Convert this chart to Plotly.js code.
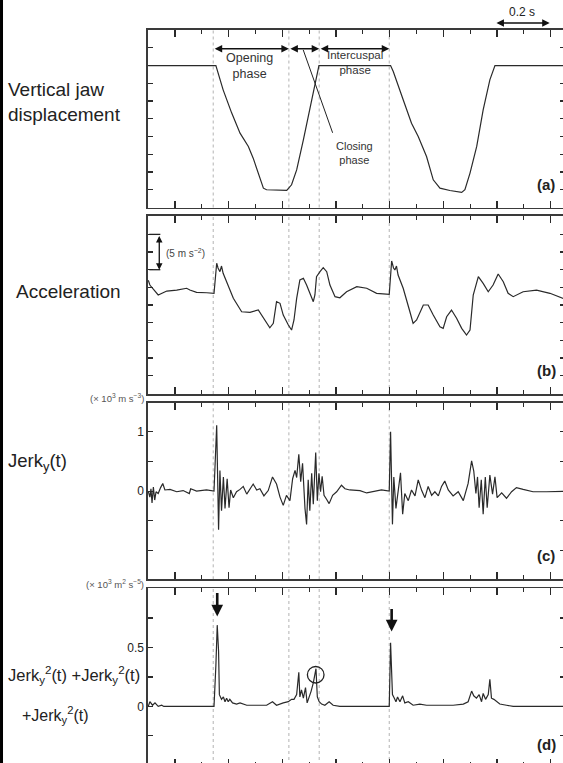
<!DOCTYPE html>
<html>
<head>
<meta charset="utf-8">
<script src="https://cdn.plot.ly/plotly-3.0.1.min.js"></script>
<style>
html,body{margin:0;padding:0;overflow:hidden;background:#fff;}
#chart{width:565px;height:766px;}
</style>
</head>
<body>
<div id="chart"></div>
<script>
// ---- data (time in s) ----
const timeDisp = [0, 0.252, 0.279, 0.311, 0.342, 0.373, 0.391, 0.410, 0.429, 0.441, 0.516, 0.534, 0.553, 0.578, 0.603, 0.621, 0.636, 0.903, 0.913, 0.950, 0.981, 1.006, 1.037, 1.062, 1.087, 1.124, 1.168, 1.180, 1.199, 1.224, 1.248, 1.273, 1.292, 1.560];
const displacement = [0, 0, -1.37, -2.68, -3.81, -4.56, -5.22, -6.06, -6.91, -7.00, -7.04, -6.72, -5.88, -4.19, -2.31, -0.99, 0, 0, -0.34, -1.93, -3.25, -4.00, -5.13, -6.44, -6.91, -7.04, -7.15, -7.00, -6.06, -4.56, -2.50, -0.81, 0, 0];

const timeAcc = [0.000, 0.006, 0.037, 0.069, 0.106, 0.143, 0.155, 0.180, 0.218, 0.245, 0.255, 0.260, 0.267, 0.273, 0.279, 0.298, 0.317, 0.348, 0.379, 0.410, 0.429, 0.453, 0.466, 0.478, 0.491, 0.503, 0.522, 0.534, 0.543, 0.553, 0.565, 0.578, 0.590, 0.603, 0.615, 0.621, 0.627, 0.640, 0.652, 0.665, 0.677, 0.696, 0.714, 0.739, 0.777, 0.814, 0.851, 0.898, 0.907, 0.914, 0.919, 0.925, 0.931, 0.950, 0.963, 0.975, 0.987, 1.000, 1.025, 1.043, 1.062, 1.087, 1.099, 1.112, 1.130, 1.149, 1.168, 1.186, 1.199, 1.211, 1.230, 1.248, 1.267, 1.285, 1.304, 1.323, 1.341, 1.360, 1.397, 1.447, 1.497, 1.540, 1.560];
const acceleration = [3.5, 2.83, 1.42, 1.98, 2.12, 2.37, 2.12, 1.80, 1.74, 1.66, 5.91, 5.24, 4.72, 5.52, 4.49, 2.83, 0.95, -0.95, -1.03, -0.71, -1.88, -3.22, -2.59, 0.47, 0.24, -1.42, -2.83, -3.54, -2.12, 0.95, 3.54, 3.78, 2.83, 1.66, 0.47, 1.42, 4.01, 4.72, 5.28, 4.72, 2.83, 1.18, 1.03, 1.88, 2.59, 2.37, 1.66, 1.52, 6.23, 5.24, 4.96, 5.52, 4.25, 2.37, 0.47, -0.95, -2.59, -2.12, 0, 0, -1.42, -3.07, -3.30, -1.66, -0.71, -1.88, -3.30, -4.25, -3.54, 1.42, 4.01, 3.07, 1.88, 2.83, 4.39, 3.30, 1.66, 1.18, 1.88, 2.12, 1.66, 0.95, 0.71];

const timeJerk = [0.000, 0.006, 0.010, 0.014, 0.019, 0.024, 0.029, 0.037, 0.046, 0.054, 0.062, 0.081, 0.106, 0.130, 0.153, 0.158, 0.180, 0.217, 0.245, 0.255, 0.262, 0.267, 0.273, 0.280, 0.286, 0.294, 0.301, 0.307, 0.317, 0.329, 0.342, 0.354, 0.367, 0.379, 0.391, 0.404, 0.416, 0.431, 0.447, 0.463, 0.478, 0.491, 0.503, 0.515, 0.528, 0.538, 0.547, 0.553, 0.561, 0.568, 0.575, 0.584, 0.590, 0.596, 0.602, 0.609, 0.615, 0.624, 0.630, 0.636, 0.642, 0.648, 0.655, 0.665, 0.674, 0.687, 0.702, 0.720, 0.733, 0.751, 0.789, 0.814, 0.838, 0.869, 0.898, 0.903, 0.910, 0.915, 0.923, 0.932, 0.940, 0.948, 0.956, 0.969, 0.981, 0.994, 1.006, 1.019, 1.031, 1.043, 1.056, 1.068, 1.081, 1.093, 1.105, 1.118, 1.136, 1.155, 1.174, 1.192, 1.205, 1.213, 1.221, 1.227, 1.233, 1.241, 1.248, 1.256, 1.263, 1.273, 1.283, 1.292, 1.300, 1.317, 1.335, 1.354, 1.372, 1.397, 1.434, 1.484, 1.545, 1.560];
const jerkY = [0, -0.10, 0.04, -0.20, 0.07, -0.15, -0.01, -0.04, 0.06, 0.13, 0.02, 0.03, -0.01, 0.01, -0.04, 0.04, 0, 0.02, 0, 1.11, -0.65, 0.35, -0.33, 0.24, -0.29, 0.21, -0.28, 0.02, -0.11, -0.01, 0.03, 0.08, -0.05, 0.04, 0.12, 0.02, 0.04, -0.08, 0.01, 0.24, 0.12, -0.10, -0.24, -0.07, -0.16, 0.21, 0.35, 0.23, 0.62, 0.16, 0.47, -0.29, -0.56, 0.19, -0.33, 0.30, -0.22, 0.65, -0.16, 0.30, -0.01, 0.25, -0.07, -0.14, -0.21, -0.07, -0.01, 0.10, 0.04, 0.02, 0.01, -0.03, -0.01, 0.02, 0, 1.00, -0.56, 0.24, -0.29, 0.07, 0.31, -0.39, -0.04, -0.16, 0.02, -0.08, 0.19, 0.01, -0.11, 0.08, -0.07, -0.01, -0.08, 0.08, 0.17, 0.02, -0.08, -0.01, -0.16, 0.13, 0.51, 0.34, -0.04, 0.24, -0.28, 0.19, -0.39, 0.24, -0.28, 0.27, -0.05, 0.24, -0.11, -0.03, -0.12, -0.01, 0.06, 0.03, -0.01, -0.01, 0, 0];

const timeJerkSq = [0.000, 0.006, 0.016, 0.025, 0.037, 0.050, 0.058, 0.245, 0.252, 0.257, 0.262, 0.265, 0.273, 0.280, 0.286, 0.292, 0.298, 0.304, 0.314, 0.329, 0.342, 0.367, 0.391, 0.416, 0.441, 0.463, 0.478, 0.503, 0.522, 0.534, 0.543, 0.553, 0.561, 0.565, 0.571, 0.578, 0.586, 0.592, 0.600, 0.607, 0.615, 0.621, 0.625, 0.630, 0.637, 0.646, 0.658, 0.674, 0.689, 0.714, 0.739, 0.898, 0.903, 0.907, 0.910, 0.917, 0.923, 0.929, 0.938, 0.948, 0.956, 0.969, 0.987, 1.012, 1.037, 1.087, 1.136, 1.174, 1.192, 1.205, 1.213, 1.223, 1.233, 1.242, 1.248, 1.257, 1.267, 1.273, 1.279, 1.288, 1.298, 1.310, 1.335, 1.360, 1.545, 1.560];
const jerkSqSum = [0, 0.04, 0.01, 0.03, 0, 0.01, 0, 0, 0.35, 0.69, 0.47, 0.10, 0.06, 0.08, 0.04, 0.07, 0.04, 0.06, 0.03, 0.02, 0.03, 0.01, 0.01, 0.01, 0.01, 0.04, 0.01, 0.03, 0.04, 0.06, 0.06, 0.10, 0.29, 0.08, 0.14, 0.07, 0.16, 0.03, 0.08, 0.13, 0.20, 0.27, 0.32, 0.08, 0.04, 0.02, 0.01, 0.04, 0.01, 0, 0, 0, 0.54, 0.35, 0.10, 0.07, 0.04, 0.08, 0.04, 0.09, 0.03, 0.04, 0.01, 0.02, 0.01, 0.01, 0.01, 0.02, 0.04, 0.13, 0.09, 0.07, 0.10, 0.04, 0.11, 0.06, 0.10, 0.23, 0.07, 0.06, 0.04, 0.02, 0.01, 0, 0, 0];

// phase boundaries (s)
const phaseBounds = [0.242, 0.524, 0.637, 0.898];

// ---- figure ----
const FONT = 'Liberation Sans, Arial, sans-serif';
const lineStyle = {color: '#2a2a2a', width: 1.2};
const traces = [
  {x: timeDisp, y: displacement, xaxis: 'x', yaxis: 'y', mode: 'lines', line: lineStyle, hoverinfo: 'skip'},
  {x: timeAcc, y: acceleration, xaxis: 'x2', yaxis: 'y2', mode: 'lines', line: lineStyle, hoverinfo: 'skip'},
  {x: timeJerk, y: jerkY, xaxis: 'x3', yaxis: 'y3', mode: 'lines', line: lineStyle, hoverinfo: 'skip'},
  {x: timeJerkSq, y: jerkSqSum, xaxis: 'x4', yaxis: 'y4', mode: 'lines', line: lineStyle, hoverinfo: 'skip'}
];

function xAxis(anchor) {
  return {
    anchor: anchor, range: [-0.001, 1.553], showgrid: false, zeroline: false,
    showline: true, linecolor: '#3a3a3a', linewidth: 1.6, mirror: 'ticks',
    ticks: 'inside', ticklen: 7, tickwidth: 1.3, tickcolor: '#2a2a2a',
    tick0: 0.1, dtick: 0.2, showticklabels: false,
    minor: {ticks: 'inside', ticklen: 4, tickwidth: 1.1, tickcolor: '#2a2a2a', tick0: 0, dtick: 0.2, showgrid: false}
  };
}
function yAxis(anchor, domain, range, extra) {
  return Object.assign({
    anchor: anchor, domain: domain, range: range, showgrid: false, zeroline: false,
    showline: true, linecolor: '#3a3a3a', linewidth: 1.6, mirror: 'ticks',
    ticks: 'inside', ticklen: 5, tickwidth: 1.2, tickcolor: '#2a2a2a',
    showticklabels: false, tickfont: {family: FONT, size: 12, color: '#222'}
  }, extra || {});
}

const shapes = [];
const axPairs = [['x', 'y'], ['x2', 'y2'], ['x3', 'y3'], ['x4', 'y4']];
axPairs.forEach(p => {
  phaseBounds.forEach(b => {
    shapes.push({type: 'line', xref: p[0], yref: p[1] + ' domain', x0: b, x1: b, y0: 0, y1: 1,
      line: {color: '#b3b3b3', width: 1, dash: 'dot'}, layer: 'below'});
  });
});
// left frame line
shapes.push({type: 'line', xref: 'paper', yref: 'paper', x0: -0.3513, x1: -0.3513, y0: 0, y1: 1,
  line: {color: '#000', width: 3}});
// leader line for closing phase
shapes.push({type: 'line', xref: 'x', yref: 'y', x0: 0.5775, y0: 0.88, x1: 0.687, y1: -3.79,
  line: {color: '#222', width: 1}});
// scale bracket in (b)
shapes.push({type: 'line', xref: 'x2', yref: 'y2', x0: 0.004, x1: 0.045, y0: 10, y1: 10, line: {color: '#222', width: 1.3}});
shapes.push({type: 'line', xref: 'x2', yref: 'y2', x0: 0.004, x1: 0.045, y0: 5, y1: 5, line: {color: '#222', width: 1.3}});
// circle in (d)
shapes.push({type: 'circle', xref: 'x4', yref: 'y4', x0: 0.593, x1: 0.655, y0: 0.199, y1: 0.339,
  line: {color: '#222', width: 1.3}});

function dblArrow(xr, yr, x0, y0, x1, y1, w) {
  return {xref: xr, yref: yr, axref: xr, ayref: yr, x: x1, y: y1, ax: x0, ay: y0, text: '',
    showarrow: true, arrowside: 'end+start', arrowhead: 2, arrowsize: 1, arrowwidth: w || 1.5,
    arrowcolor: '#111', standoff: 0, startstandoff: 0};
}
function downArrow(xr, yr, x, yTop, yTip) {
  return {xref: xr, yref: yr, axref: xr, ayref: yr, x: x, y: yTip, ax: x, ay: yTop, text: '',
    showarrow: true, arrowhead: 2, arrowsize: 0.9, arrowwidth: 2.6, arrowcolor: '#111', standoff: 0};
}
function txt(xr, yr, x, y, text, size, opts) {
  return Object.assign({xref: xr, yref: yr, x: x, y: y, text: text, showarrow: false,
    xanchor: 'center', yanchor: 'middle',
    font: {family: FONT, size: size, color: '#222'}}, opts || {});
}

const annotations = [
  // panel a phase arrows
  dblArrow('x', 'y', 0.242, 0.94, 0.524, 0.94),
  dblArrow('x', 'y', 0.524, 0.94, 0.637, 0.94),
  dblArrow('x', 'y', 0.637, 0.94, 0.898, 0.94),
  txt('x', 'y', 0.379, -0.02, 'Opening<br>phase', 12.5, {align: 'center', font: {family: FONT, size: 12.5, color: '#333'}}),
  txt('x', 'y', 0.770, 0.18, 'Intercuspal<br>phase', 11.5, {align: 'center', font: {family: FONT, size: 11.5, color: '#333'}}),
  txt('x', 'y', 0.770, -4.92, 'Closing<br>phase', 11, {align: 'center', font: {family: FONT, size: 11, color: '#333'}}),
  // 0.2 s scale bar (above panel a)
  {xref: 'x', yref: 'paper', axref: 'x', ayref: 'pixel', x: 1.496, y: 0.970, ax: 1.292, ay: 0, text: '',
    showarrow: true, arrowside: 'end+start', arrowhead: 2, arrowsize: 1, arrowwidth: 1.5,
    arrowcolor: '#111', standoff: 0, startstandoff: 0},
  txt('x', 'paper', 1.394, 0.984, '0.2 s', 12),
  // (b) bracket
  dblArrow('x2', 'y2', 0.041, 10, 0.041, 5, 1.3),
  txt('x2', 'y2', 0.060, 7.4, '(5 m s<sup>−2</sup>)', 10, {xanchor: 'left', font: {family: FONT, size: 10, color: '#444'}}),
  // (d) arrows
  downArrow('x4', 'y4', 0.257, 0.975, 0.763),
  downArrow('x4', 'y4', 0.907, 0.839, 0.636),
  // panel labels
  txt('paper', 'paper', 0.9555, 0.7585, '<b>(a)</b>', 15),
  txt('paper', 'paper', 0.9555, 0.5157, '<b>(b)</b>', 15),
  txt('paper', 'paper', 0.9555, 0.2742, '<b>(c)</b>', 15),
  txt('paper', 'paper', 0.9555, 0.0287, '<b>(d)</b>', 15),
  // left labels
  txt('paper', 'paper', -0.340, 0.8668, 'Vertical jaw<br>displacement', 19, {xanchor: 'left', align: 'left'}),
  txt('paper', 'paper', -0.321, 0.6188, 'Acceleration', 19, {xanchor: 'left'}),
  txt('paper', 'paper', -0.340, 0.3969, 'Jerk<sub>y</sub>(t)', 18.5, {xanchor: 'left'}),
  txt('paper', 'paper', -0.340, 0.1188, 'Jerk<sub>y</sub><sup>2</sup>(t) +Jerk<sub>y</sub><sup>2</sup>(t)', 16.5, {xanchor: 'left'}),
  txt('paper', 'paper', -0.306, 0.0666, '+Jerk<sub>y</sub><sup>2</sup>(t)', 16, {xanchor: 'left'}),
  // unit labels
  txt('paper', 'paper', -0.004, 0.4804, '(× 10<sup>3</sup> m s<sup>−3</sup>)', 9.5, {xanchor: 'right', font: {family: FONT, size: 9.5, color: '#555'}}),
  txt('paper', 'paper', -0.004, 0.2376, '(× 10<sup>3</sup> m<sup>2</sup> s<sup>−5</sup>)', 9.5, {xanchor: 'right', font: {family: FONT, size: 9.5, color: '#555'}})
];

const layout = {
  width: 565, height: 766,
  margin: {l: 148, r: 0, t: 0, b: 0},
  paper_bgcolor: '#fff', plot_bgcolor: '#fff',
  showlegend: false,
  font: {family: FONT, color: '#222'},
  xaxis: xAxis('y'), xaxis2: xAxis('y2'), xaxis3: xAxis('y3'), xaxis4: xAxis('y4'),
  yaxis: yAxis('x', [0.7291, 0.9608], [-8, 2], {dtick: 1, tick0: 0}),
  yaxis2: yAxis('x2', [0.4856, 0.7180], [-12.6, 12.6], {dtick: 2.5, tick0: 0}),
  yaxis3: yAxis('x3', [0.2437, 0.4739], [-1.487, 1.487], {tickmode: 'array', tickvals: [0, 1], ticktext: ['0', '1'], showticklabels: true,
    minor: {ticks: 'inside', ticklen: 5, tickwidth: 1.2, tickcolor: '#2a2a2a', tick0: 0, dtick: 0.5, showgrid: false}}),
  yaxis4: yAxis('x4', [0, 0.2320], [-0.506, 1.003], {tickmode: 'array', tickvals: [0, 0.5], ticktext: ['0', '0.5'], showticklabels: true,
    minor: {ticks: 'inside', ticklen: 5, tickwidth: 1.2, tickcolor: '#2a2a2a', tick0: 0, dtick: 0.25, showgrid: false}}),
  shapes: shapes,
  annotations: annotations
};

Plotly.newPlot('chart', traces, layout, {staticPlot: true, displayModeBar: false});
</script>
</body>
</html>
